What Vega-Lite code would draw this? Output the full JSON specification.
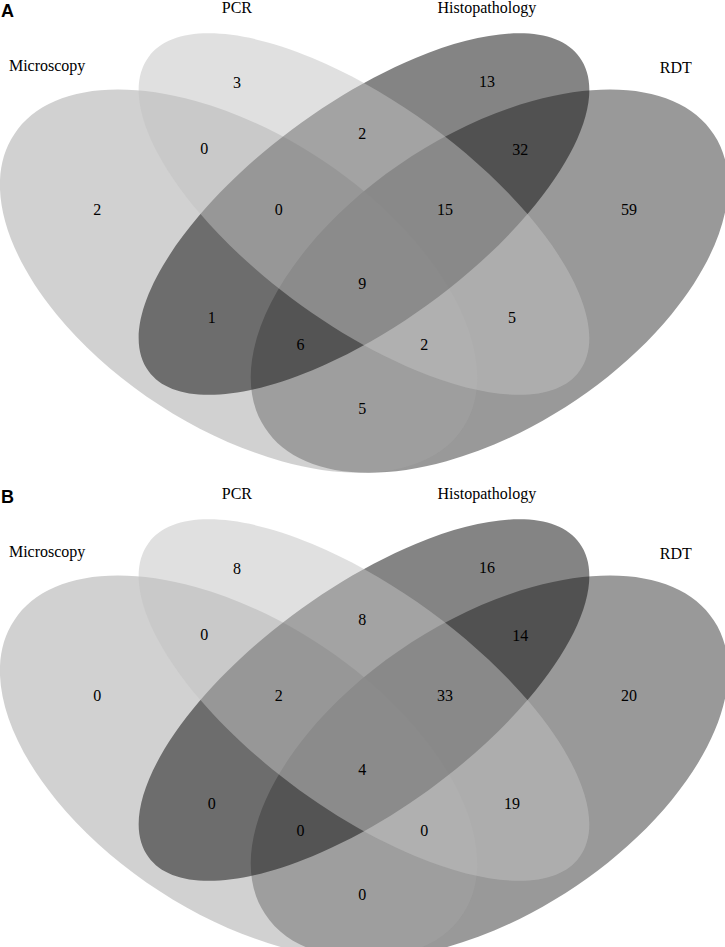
{
  "$schema": "https://vega.github.io/schema/vega-lite/v6.json",
  "padding": 0,
  "spacing": 0,
  "background": "white",
  "config": {"view": {"stroke": null}, "axis": {"domain": false}},
  "datasets": {
    "ellipses": [
      {"set": "RDT", "cx": 0.65, "cy": 0.47},
      {"set": "Microscopy", "cx": 0.35, "cy": 0.47},
      {"set": "Histopathology", "cx": 0.5, "cy": 0.57},
      {"set": "PCR", "cx": 0.5, "cy": 0.57}
    ],
    "setlabels": [
      {"label": "Microscopy", "lx": 0.121, "ly": 0.7915},
      {"label": "PCR", "lx": 0.348, "ly": 0.8776},
      {"label": "Histopathology", "lx": 0.647, "ly": 0.8776},
      {"label": "RDT", "lx": 0.873, "ly": 0.788}
    ]
  },
  "vconcat": [
    {
      "width": 725,
      "height": 484,
      "layer": [
        {
          "data": {"name": "ellipses"},
          "mark": {"type": "point", "filled": true, "size": 4, "clip": true, "strokeWidth": 0},
          "encoding": {
            "x": {"field": "cx", "type": "quantitative", "axis": null, "scale": {"domain": [0.064593, 0.931818], "nice": false, "zero": false}},
            "y": {"field": "cy", "type": "quantitative", "axis": null, "scale": {"domain": [0.164179, 0.886567], "nice": false, "zero": false}},
            "shape": {"field": "set", "type": "nominal", "legend": null, "scale": {"domain": ["RDT", "Microscopy", "Histopathology", "PCR"], "range": [
              "M224.46,-146.57A268.08,146.26,-33.14,1,1,-224.46,146.57A268.08,146.26,-33.14,1,1,224.46,-146.57Z",
              "M224.46,146.57A268.08,146.26,33.14,1,1,-224.46,-146.57A268.08,146.26,33.14,1,1,224.46,146.57Z",
              "M215.53,-156.81A266.54,110.33,-36.04,1,1,-215.53,156.81A266.54,110.33,-36.04,1,1,215.53,-156.81Z",
              "M215.53,156.81A266.54,110.33,36.04,1,1,-215.53,-156.81A266.54,110.33,36.04,1,1,215.53,156.81Z"
            ]}},
            "color": {"field": "set", "type": "nominal", "legend": null, "scale": {"domain": ["RDT", "Microscopy", "Histopathology", "PCR"], "range": ["#333333", "#a3a3a3", "#0a0a0a", "#c1c1c1"]}},
            "opacity": {"field": "set", "type": "nominal", "legend": null, "scale": {"domain": ["RDT", "Microscopy", "Histopathology", "PCR"], "range": [0.5, 0.5, 0.52, 0.5]}}
          }
        },
        {
          "data": {"name": "setlabels"},
          "mark": {"type": "text", "font": "Liberation Serif", "fontSize": 16, "baseline": "middle", "align": "center", "color": "black"},
          "encoding": {
            "x": {"field": "lx", "type": "quantitative"},
            "y": {"field": "ly", "type": "quantitative"},
            "text": {"field": "label"}
          }
        },
        {
          "data": {"values": [
            {"region": "PCR", "n": 3, "x": 0.348, "y": 0.766},
            {"region": "Microscopy & PCR", "n": 0, "x": 0.309, "y": 0.667},
            {"region": "Microscopy", "n": 2, "x": 0.181, "y": 0.576},
            {"region": "Microscopy & PCR & Histopathology", "n": 0, "x": 0.398, "y": 0.576},
            {"region": "Histopathology", "n": 13, "x": 0.647, "y": 0.767},
            {"region": "PCR & Histopathology", "n": 2, "x": 0.498, "y": 0.69},
            {"region": "Histopathology & RDT", "n": 32, "x": 0.687, "y": 0.666},
            {"region": "PCR & Histopathology & RDT", "n": 15, "x": 0.597, "y": 0.576},
            {"region": "RDT", "n": 59, "x": 0.817, "y": 0.576},
            {"region": "Microscopy & Histopathology", "n": 1, "x": 0.318, "y": 0.415},
            {"region": "Microscopy & Histopathology & RDT", "n": 6, "x": 0.424, "y": 0.375},
            {"region": "All four", "n": 9, "x": 0.498, "y": 0.466},
            {"region": "Microscopy & PCR & RDT", "n": 2, "x": 0.572, "y": 0.375},
            {"region": "PCR & RDT", "n": 5, "x": 0.677, "y": 0.415},
            {"region": "Microscopy & RDT", "n": 5, "x": 0.498, "y": 0.279}
          ]},
          "mark": {"type": "text", "font": "Liberation Serif", "fontSize": 16, "baseline": "middle", "align": "center", "color": "black"},
          "encoding": {
            "x": {"field": "x", "type": "quantitative"},
            "y": {"field": "y", "type": "quantitative"},
            "text": {"field": "n"}
          }
        },
        {
          "data": {"values": [{"panel": "A", "x": 0.0658, "y": 0.864}]},
          "mark": {"type": "text", "font": "Liberation Sans", "fontWeight": "bold", "fontSize": 18, "baseline": "alphabetic", "align": "left", "color": "black"},
          "encoding": {
            "x": {"field": "x", "type": "quantitative"},
            "y": {"field": "y", "type": "quantitative"},
            "text": {"field": "panel"}
          }
        }
      ]
    },
    {
      "width": 725,
      "height": 463,
      "layer": [
        {
          "data": {"name": "ellipses"},
          "mark": {"type": "point", "filled": true, "size": 4, "clip": true, "strokeWidth": 0},
          "encoding": {
            "x": {"field": "cx", "type": "quantitative", "axis": null, "scale": {"domain": [0.064593, 0.931818], "nice": false, "zero": false}},
            "y": {"field": "cy", "type": "quantitative", "axis": null, "scale": {"domain": [0.195522, 0.886567], "nice": false, "zero": false}},
            "shape": {"field": "set", "type": "nominal", "legend": null, "scale": {"domain": ["RDT", "Microscopy", "Histopathology", "PCR"], "range": [
              "M224.46,-146.57A268.08,146.26,-33.14,1,1,-224.46,146.57A268.08,146.26,-33.14,1,1,224.46,-146.57Z",
              "M224.46,146.57A268.08,146.26,33.14,1,1,-224.46,-146.57A268.08,146.26,33.14,1,1,224.46,146.57Z",
              "M215.53,-156.81A266.54,110.33,-36.04,1,1,-215.53,156.81A266.54,110.33,-36.04,1,1,215.53,-156.81Z",
              "M215.53,156.81A266.54,110.33,36.04,1,1,-215.53,-156.81A266.54,110.33,36.04,1,1,215.53,156.81Z"
            ]}},
            "color": {"field": "set", "type": "nominal", "legend": null, "scale": {"domain": ["RDT", "Microscopy", "Histopathology", "PCR"], "range": ["#333333", "#a3a3a3", "#0a0a0a", "#c1c1c1"]}},
            "opacity": {"field": "set", "type": "nominal", "legend": null, "scale": {"domain": ["RDT", "Microscopy", "Histopathology", "PCR"], "range": [0.5, 0.5, 0.52, 0.5]}}
          }
        },
        {
          "data": {"name": "setlabels"},
          "mark": {"type": "text", "font": "Liberation Serif", "fontSize": 16, "baseline": "middle", "align": "center", "color": "black"},
          "encoding": {
            "x": {"field": "lx", "type": "quantitative"},
            "y": {"field": "ly", "type": "quantitative"},
            "text": {"field": "label"}
          }
        },
        {
          "data": {"values": [
            {"region": "PCR", "n": 8, "x": 0.348, "y": 0.766},
            {"region": "Microscopy & PCR", "n": 0, "x": 0.309, "y": 0.667},
            {"region": "Microscopy", "n": 0, "x": 0.181, "y": 0.576},
            {"region": "Microscopy & PCR & Histopathology", "n": 2, "x": 0.398, "y": 0.576},
            {"region": "Histopathology", "n": 16, "x": 0.647, "y": 0.767},
            {"region": "PCR & Histopathology", "n": 8, "x": 0.498, "y": 0.69},
            {"region": "Histopathology & RDT", "n": 14, "x": 0.687, "y": 0.666},
            {"region": "PCR & Histopathology & RDT", "n": 33, "x": 0.597, "y": 0.576},
            {"region": "RDT", "n": 20, "x": 0.817, "y": 0.576},
            {"region": "Microscopy & Histopathology", "n": 0, "x": 0.318, "y": 0.415},
            {"region": "Microscopy & Histopathology & RDT", "n": 0, "x": 0.424, "y": 0.375},
            {"region": "All four", "n": 4, "x": 0.498, "y": 0.466},
            {"region": "Microscopy & PCR & RDT", "n": 0, "x": 0.572, "y": 0.375},
            {"region": "PCR & RDT", "n": 19, "x": 0.677, "y": 0.415},
            {"region": "Microscopy & RDT", "n": 0, "x": 0.498, "y": 0.279}
          ]},
          "mark": {"type": "text", "font": "Liberation Serif", "fontSize": 16, "baseline": "middle", "align": "center", "color": "black"},
          "encoding": {
            "x": {"field": "x", "type": "quantitative"},
            "y": {"field": "y", "type": "quantitative"},
            "text": {"field": "n"}
          }
        },
        {
          "data": {"values": [{"panel": "B", "x": 0.0658, "y": 0.864}]},
          "mark": {"type": "text", "font": "Liberation Sans", "fontWeight": "bold", "fontSize": 18, "baseline": "alphabetic", "align": "left", "color": "black"},
          "encoding": {
            "x": {"field": "x", "type": "quantitative"},
            "y": {"field": "y", "type": "quantitative"},
            "text": {"field": "panel"}
          }
        }
      ]
    }
  ]
}
